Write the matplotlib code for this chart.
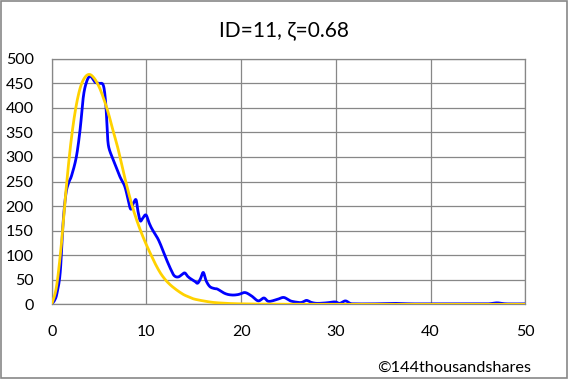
import matplotlib
matplotlib.use('Agg')
import matplotlib.pyplot as plt
from matplotlib.patches import Rectangle
import numpy as np

plt.rcParams['font.family'] = ['Lato', 'DejaVu Sans']

obs_x = [0, 0.3, 0.55, 0.9, 1.2, 1.5, 1.8, 2.1, 2.6, 3.0, 3.35, 3.7, 4.05, 4.3,
         4.6, 5.0, 5.45, 5.7, 5.85, 6.0, 6.5, 7.2, 7.75, 8.3, 8.6, 8.9, 9.1,
         9.35, 9.6, 9.95, 10.3, 10.6, 11.3, 12.1, 12.6, 12.95, 13.4, 14.0,
         14.3, 14.6, 15.1, 15.4, 15.7, 16.0, 16.3, 16.7, 17.2, 17.5, 18.3,
         19.0, 19.7, 20.4, 21.1, 21.8, 22.4, 22.9, 23.8, 24.5, 25.2, 26.0,
         26.4, 26.9, 27.4, 28, 29, 29.9, 30.4, 31.0, 31.5, 32, 34, 36, 38,
         40, 42, 44, 46, 47, 48, 50]
obs_y = [0, 8, 22, 65, 165, 225, 248, 262, 300, 356, 424, 454, 465, 460,
         452, 450, 446, 410, 360, 322, 294, 260, 238, 195, 205, 213, 190,
         170, 175, 182, 165, 153, 130, 92, 70, 58, 56, 64,
         58, 53, 47, 43, 52, 65, 48, 36, 32, 31, 22,
         19, 20, 24, 17, 7, 13, 6, 10, 14, 7, 4,
         4, 8, 4, 2, 3, 5, 2, 7, 2, 1, 1, 2, 1,
         1, 1, 1, 1, 3, 1, 1]

# fitted curve (yellow)
fit_x = [0, 0.5, 1, 1.5, 2, 2.5, 3, 3.5, 4, 4.5, 5, 5.5, 6, 6.5, 7, 7.5, 8,
         8.5, 9, 9.5, 10, 10.5, 11, 11.5, 12, 12.5, 13, 13.5, 14, 14.5, 15,
         16, 17, 18, 19, 20, 22, 25, 30, 40, 50]
fit_y = [0, 35, 118, 230, 325, 395, 440, 462, 468, 460, 443, 418, 388, 352,
         317, 275, 236, 200, 170, 144, 121, 100, 80, 63, 50, 40, 32, 25, 19,
         15, 11, 7, 4, 2.5, 1.5, 1, 0.5, 0.2, 0, 0, 0]

x_ticks = [0, 10, 20, 30, 40, 50]
y_ticks = list(range(0, 501, 50))


def smooth(xs, ys, n=12):
    # Catmull-Rom through the points, like a spreadsheet "smoothed line"
    p = np.column_stack([xs, ys]).astype(float)
    p = np.vstack([p[0], p, p[-1]])
    out = []
    t = np.linspace(0, 1, n, endpoint=False)[:, None]
    for i in range(1, len(p) - 2):
        p0, p1, p2, p3 = p[i - 1], p[i], p[i + 1], p[i + 2]
        seg = 0.5 * ((2 * p1) + (-p0 + p2) * t
                     + (2 * p0 - 5 * p1 + 4 * p2 - p3) * t ** 2
                     + (-p0 + 3 * p1 - 3 * p2 + p3) * t ** 3)
        out.append(seg)
    out.append(p[-2][None, :])
    out = np.vstack(out)
    return out[:, 0], out[:, 1]


fig = plt.figure(figsize=(5.68, 3.79), dpi=100)
ax = fig.add_axes([0.091, 0.197, 0.834, 0.648])

sx, sy = smooth(obs_x, obs_y)
ax.plot(sx, sy, color='#0000FF', lw=2.0, zorder=3)
sx, sy = smooth(fit_x, fit_y)
ax.plot(sx, sy, color='#FFD200', lw=2.0, zorder=4)

ax.set_xlim(0, 50)
ax.set_ylim(0, 500)
ax.set_xticks(x_ticks)
ax.set_yticks(y_ticks)
ax.grid(True, color='#878787', lw=0.9)
ax.set_axisbelow(True)
for s in ax.spines.values():
    s.set_color('#878787')
    s.set_linewidth(0.9)
ax.tick_params(length=0, labelsize=11.5)
ax.tick_params(axis='x', pad=15)
ax.tick_params(axis='y', pad=13)

fig.text(0.5, 0.92, 'ID=11, \u03b6=0.68', ha='center', va='center', fontsize=15)
fig.text(0.935, 0.03, '\u00a9144thousandshares', ha='right', va='center', fontsize=11.7)

fig.patches.append(Rectangle((0.001, 0.002), 0.997, 0.995, transform=fig.transFigure,
                             fill=False, edgecolor='#878787', lw=1.2))

fig.savefig('out.png', dpi=100)
